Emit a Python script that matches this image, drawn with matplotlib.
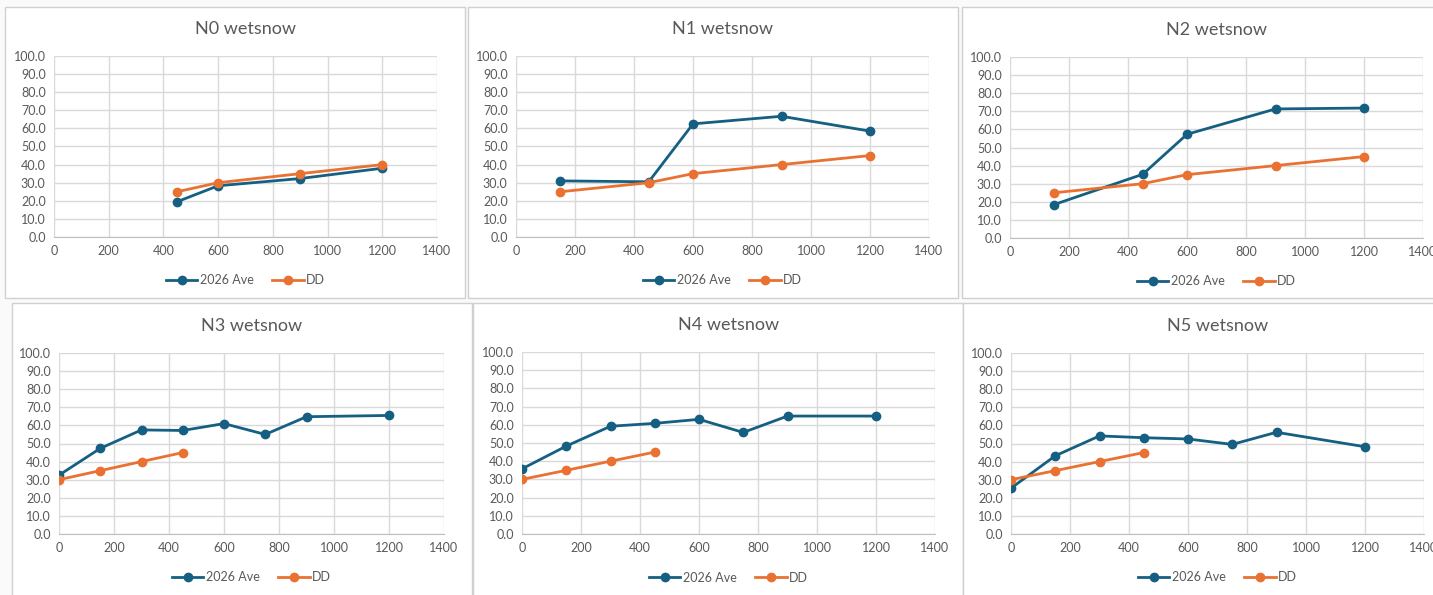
import matplotlib.pyplot as plt
from matplotlib.patches import Rectangle

plt.rcParams['font.family'] = ['Lato', 'DejaVu Sans']

W, H = 1433, 595

titles = ["N0 wetsnow", "N1 wetsnow", "N2 wetsnow",
          "N3 wetsnow", "N4 wetsnow", "N5 wetsnow"]

# 2026 Ave series
ave_x = [
    [450, 600, 900, 1200],
    [150, 450, 600, 900, 1200],
    [150, 450, 600, 900, 1200],
    [0, 150, 300, 450, 600, 750, 900, 1200],
    [0, 150, 300, 450, 600, 750, 900, 1200],
    [0, 150, 300, 450, 600, 750, 900, 1200],
]
ave_y = [
    [19.5, 28.3, 32.3, 38.0],
    [31.0, 30.5, 62.5, 66.7, 58.5],
    [18.5, 35.2, 57.3, 71.3, 71.8],
    [32.5, 47.3, 57.5, 57.2, 61.0, 55.0, 64.8, 65.5],
    [35.8, 48.3, 59.2, 60.8, 63.0, 55.8, 64.8, 64.8],
    [25.3, 43.2, 54.2, 53.2, 52.5, 49.5, 56.2, 48.2],
]

# DD series
dd_x = [
    [450, 600, 900, 1200],
    [150, 450, 600, 900, 1200],
    [150, 450, 600, 900, 1200],
    [0, 150, 300, 450],
    [0, 150, 300, 450],
    [0, 150, 300, 450],
]
dd_y = [
    [25, 30, 35, 40],
    [25, 30, 35, 40, 45],
    [25, 30, 35, 40, 45],
    [30, 35, 40, 45],
    [30, 35, 40, 45],
    [30, 35, 40, 45],
]

# layout in pixels: panel frame (x0, y0, x1, y1) and plot area (x0, y0, x1, y1)
frames = [(5, 7, 465, 298), (468, 7, 958, 298), (962, 7, 1440, 298),
          (12, 303, 472, 600), (473, 303, 963, 600), (963, 303, 1440, 600)]
plots = [(54, 56, 437, 237), (516, 56, 929, 237), (1010, 57, 1423, 238),
         (59, 353, 444, 534), (522, 352, 935, 534), (1011, 353, 1424, 534)]

BLUE = '#156082'
ORANGE = '#E97132'
GRAY = '#595959'

fig = plt.figure(figsize=(W / 100, H / 100), dpi=100)
fig.patch.set_facecolor('#fafafa')

for (fx0, fy0, fx1, fy1) in frames:
    fig.patches.append(Rectangle((fx0 / W, 1 - fy1 / H), (fx1 - fx0) / W, (fy1 - fy0) / H,
                                 transform=fig.transFigure, facecolor='white',
                                 edgecolor='#d0d0d0', linewidth=1, zorder=-5))

for i in range(6):
    px0, py0, px1, py1 = plots[i]
    ax = fig.add_axes([px0 / W, 1 - py1 / H, (px1 - px0) / W, (py1 - py0) / H])
    ax.set_facecolor('white')
    ax.plot(ave_x[i], ave_y[i], color=BLUE, marker='o', markersize=6, linewidth=2, label='2026 Ave')
    ax.plot(dd_x[i], dd_y[i], color=ORANGE, marker='o', markersize=6, linewidth=2, label='DD')
    ax.set_xlim(0, 1400)
    ax.set_ylim(0, 100)
    ax.set_xticks(range(0, 1401, 200))
    ax.set_yticks(range(0, 101, 10))
    ax.set_yticklabels([f"{v:.1f}" for v in range(0, 101, 10)])
    ax.grid(True, color='#d9d9d9', linewidth=1)
    ax.set_axisbelow(True)
    for s in ['top', 'right', 'left']:
        ax.spines[s].set_visible(False)
    ax.spines['bottom'].set_color('#bfbfbf')
    ax.tick_params(length=0, colors=GRAY, labelsize=9, pad=6)
    cx = (px0 + px1) / 2 / W
    fig.text(cx, 1 - (py0 - 27) / H, titles[i], ha='center', va='center',
             fontsize=13, color=GRAY)
    ax.legend(loc='center', bbox_to_anchor=(0.5, -0.24), ncol=2, frameon=False,
              fontsize=9, labelcolor=GRAY, handlelength=2.5, columnspacing=1.5,
              handletextpad=0.2)

plt.savefig('out.png', dpi=100, facecolor=fig.get_facecolor())
